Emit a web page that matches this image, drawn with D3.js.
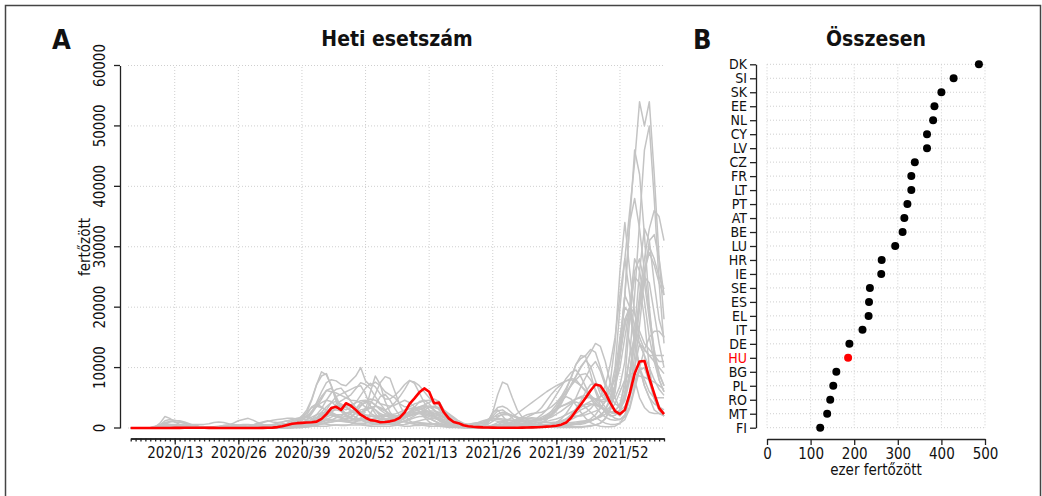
<!DOCTYPE html>
<html>
<head>
<meta charset="utf-8">
<script src="https://cdn.jsdelivr.net/npm/d3@7"></script>
<style>
  body { margin: 0; background: #fff; }
  svg text { font-family: "DejaVu Sans Condensed", "DejaVu Sans", sans-serif; font-stretch: condensed; fill: #111; }
</style>
</head>
<body>
<svg id="chart" width="1042" height="496"></svg>
<script>
// ---- data ----
// week labels, 2020/04 .. 2022/09 (one point per week)
var weeks = [];
[[2020, 4, 52], [2021, 1, 52], [2022, 1, 9]].forEach(function(s) {
    for (var w = s[1]; w <= s[2]; w++) weeks.push(s[0] + "/" + (w < 10 ? "0" + w : w));
});
var labelWeeks = ["2020/13", "2020/26", "2020/39", "2020/52", "2021/13", "2021/26", "2021/39", "2021/52"];
var yTicks = [0, 10000, 20000, 30000, 40000, 50000, 60000];

// panel B: total, thousand infected (per million)
var countries = ["DK","SI","SK","EE","NL","CY","LV","CZ","FR","LT","PT","AT","BE","LU","HR","IE","SE","ES","EL","IT","DE","HU","BG","PL","RO","MT","FI"];
var totals    = [486, 428, 400, 384, 381, 367, 367, 339, 331, 331, 322, 315, 311, 294, 263, 262, 236, 234, 233, 219, 189, 186, 159, 152, 145, 138, 122];
var xTicksB = [0, 100, 200, 300, 400, 500];

// panel A: weekly cases, in thousands
var wDK = [0,0,0,0,0,0.1,0.2,0.3,0.3,0.3,
  0.4,0.4,0.3,0.3,0.2,0.2,0.1,0.1,0.1,0.1,
  0.1,0.1,0.1,0.1,0.1,0.1,0.1,0.2,0.2,0.2,
  0.3,0.3,0.3,0.3,0.5,0.6,0.5,0.5,0.5,0.6,
  0.8,1.0,1.1,1.2,1.1,1.2,1.8,2.5,3.2,3.4,
  3.0,2.0,1.2,0.8,0.5,0.4,0.3,0.3,0.4,0.4,
  0.5,0.5,0.6,0.7,0.9,1.0,1.0,0.9,0.7,0.6,
  0.4,0.3,0.3,0.3,0.5,0.9,1.1,0.9,0.6,0.5,
  0.4,0.3,0.3,0.3,0.3,0.3,0.4,0.5,0.7,1.0,
  1.4,1.8,2.2,2.6,3.2,4.2,5.2,7.0,10.5,15.0,
  22.0,28.0,36.0,44.0,54.0,50.0,54.0,42.0,28.0,18.0];
var wSI = [0,0,0,0,0,0,0.1,0.3,0.4,0.3,
  0.2,0.2,0.1,0.1,0,0,0,0,0,0,
  0,0.1,0.1,0.1,0.1,0.1,0.1,0.1,0.1,0.1,
  0.1,0.2,0.3,0.4,0.5,0.8,1.4,2.6,4.2,6.0,
  7.5,8.0,7.8,7.2,7.0,7.8,8.6,10.0,7.8,7.0,
  7.6,7.0,6.0,5.5,5.0,4.0,3.5,3.5,4.0,4.2,
  4.5,4.6,4.2,3.8,3.0,2.4,1.8,1.2,0.8,0.5,
  0.3,0.2,0.1,0.1,0.2,0.4,0.6,0.8,1.0,1.5,
  1.8,2.2,2.4,2.5,2.6,3.0,3.5,4.2,5.2,6.6,
  8.2,10.5,11.5,12.0,13.0,12.5,10.0,7.5,5.5,4.0,
  3.5,8.0,18.0,26.0,28.0,24.0,18.0,12.0,9.0,7.0];
var wSK = [0,0,0,0,0,0,0,0.1,0.1,0.1,
  0.1,0.1,0,0,0,0,0,0,0,0,
  0,0,0,0,0,0,0,0.1,0.1,0.1,
  0.2,0.2,0.3,0.4,0.6,1.2,2.2,3.5,4.0,3.5,
  2.8,2.2,1.8,1.6,1.5,1.8,2.6,3.6,4.4,4.8,
  4.6,4.0,3.8,3.6,3.8,4.2,4.6,4.2,3.5,2.8,
  2.0,1.6,1.2,0.8,0.5,0.3,0.2,0.1,0.1,0.1,
  0,0,0,0,0,0,0,0.1,0.1,0.1,
  0.2,0.3,0.4,0.6,0.9,1.4,2.2,3.0,4.2,5.6,
  7.0,8.5,10.0,11.2,12.5,14.0,13.5,11.0,7.5,5.0,
  3.2,4.5,8.0,14.0,22.0,28.0,33.0,36.0,35.0,31.0];
var wEE = [0,0,0,0,0,0,0.1,0.3,0.3,0.2,
  0.2,0.1,0.1,0,0,0,0,0,0,0,
  0,0,0,0,0,0,0,0,0,0.1,
  0.1,0.1,0.1,0.2,0.3,0.3,0.3,0.4,0.5,0.7,
  0.9,1.0,1.2,1.4,1.6,1.8,2.4,3.0,3.2,3.4,
  3.6,3.4,3.0,3.4,4.2,5.2,6.4,7.8,7.6,7.0,
  6.0,5.0,4.0,3.0,2.2,1.5,1.0,0.6,0.4,0.3,
  0.2,0.1,0.1,0.1,0.2,0.3,0.5,0.8,1.0,1.2,
  1.5,1.8,2.2,2.6,3.4,4.5,5.6,6.5,7.2,7.8,
  8.2,8.0,7.0,6.0,5.0,4.2,3.5,3.0,2.6,2.4,
  3.0,6.0,12.0,22.0,34.0,46.0,50.0,38.0,24.0,14.0];
var wNL = [0,0,0,0,0,0.1,0.2,0.4,0.5,0.5,
  0.4,0.4,0.3,0.2,0.1,0.1,0.1,0,0,0,
  0,0,0,0,0.1,0.1,0.2,0.3,0.3,0.3,
  0.3,0.4,0.6,0.8,1.2,1.8,2.6,3.4,3.6,3.4,
  3.0,2.5,2.0,1.8,1.9,2.4,3.2,4.2,4.5,3.6,
  3.0,2.4,2.0,1.7,1.8,2.0,2.2,2.4,2.8,3.0,
  3.4,3.6,3.4,3.2,2.8,2.3,1.6,0.9,0.6,0.3,
  0.2,0.2,0.3,0.8,2.6,3.0,2.0,1.0,0.6,0.5,
  0.5,0.5,0.4,0.3,0.3,0.3,0.4,0.6,0.9,1.4,
  2.2,3.2,4.5,6.0,7.2,7.4,6.4,5.0,4.0,3.0,
  3.6,5.5,9.0,14.0,20.0,26.0,29.0,27.0,24.0,22.0];
var wCY = [0,0,0,0,0,0,0.1,0.2,0.2,0.2,
  0.1,0.1,0.1,0,0,0,0,0,0,0,
  0,0,0,0,0,0,0,0,0.1,0.1,
  0.1,0.1,0.1,0.1,0.1,0.1,0.2,0.3,0.5,0.7,
  0.9,1.3,1.7,2.0,2.4,2.6,2.5,2.6,2.9,3.3,
  3.0,2.2,1.5,1.2,1.2,1.6,2.0,2.6,3.2,3.5,
  3.8,4.2,4.8,4.4,3.0,1.8,0.9,0.5,0.4,0.4,
  0.4,0.4,0.5,1.0,2.6,5.5,7.6,7.2,5.0,3.0,
  1.8,1.4,1.2,1.0,0.9,0.9,0.9,1.0,1.2,1.5,
  1.8,2.0,2.0,2.2,2.5,2.8,3.2,4.4,7.5,14.0,
  26.0,34.0,26.0,19.0,15.0,13.0,12.0,12.0,11.0,11.0];
var wLV = [0,0,0,0,0,0,0.1,0.1,0.1,0.1,
  0.1,0.1,0,0,0,0,0,0,0,0,
  0,0,0,0,0,0,0,0,0,0,
  0,0,0,0.1,0.1,0.2,0.3,0.5,0.7,1.0,
  1.4,1.8,2.2,2.2,2.4,2.8,3.2,3.8,4.2,4.4,
  3.8,3.2,2.8,2.2,2.0,1.8,1.8,2.0,2.2,2.4,
  2.6,2.8,2.8,2.6,2.2,1.8,1.2,0.7,0.4,0.3,
  0.2,0.1,0.1,0.1,0.1,0.1,0.1,0.2,0.3,0.4,
  0.6,0.9,1.2,1.6,2.2,3.0,4.2,5.5,6.8,8.2,
  9.2,9.6,8.5,6.8,5.0,3.6,2.5,1.8,1.4,1.3,
  1.4,2.2,5.0,10.0,17.0,25.0,31.0,32.0,28.0,22.0];
var wCZ = [0,0,0,0,0,0,0.1,0.2,0.2,0.2,
  0.1,0.1,0.1,0.1,0,0,0,0,0,0.1,
  0.1,0.1,0.1,0.1,0.1,0.1,0.1,0.1,0.1,0.2,
  0.2,0.3,0.5,0.8,1.3,2.0,3.0,4.8,7.2,9.3,
  8.8,7.0,4.8,3.4,3.0,3.4,4.2,5.4,6.6,7.4,
  6.8,5.6,4.8,4.8,5.4,6.2,7.2,7.9,7.4,5.8,
  4.2,3.0,2.0,1.2,0.8,0.5,0.3,0.2,0.1,0.1,
  0.1,0.1,0.1,0.1,0.1,0.1,0.1,0.1,0.1,0.1,
  0.1,0.1,0.1,0.1,0.2,0.3,0.5,0.9,1.5,2.4,
  3.6,5.0,6.8,8.4,10.0,11.0,9.4,7.0,4.2,2.6,
  2.0,3.0,6.0,12.0,20.0,25.0,24.0,19.0,14.0,10.0];
var wFR = [0,0,0,0,0,0.1,0.2,0.4,0.6,0.6,
  0.5,0.4,0.3,0.2,0.1,0.1,0.1,0.1,0.1,0.1,
  0.1,0.1,0.1,0.1,0.1,0.2,0.2,0.3,0.4,0.6,
  0.8,1.0,1.2,1.4,1.6,1.8,2.0,2.6,3.6,4.8,
  6.2,6.6,5.2,3.4,2.2,1.5,1.3,1.3,1.5,1.9,
  2.0,1.9,1.9,2.0,2.0,2.1,2.3,2.6,3.0,3.4,
  3.6,3.5,3.0,2.4,1.8,1.3,0.9,0.6,0.4,0.3,
  0.3,0.3,0.4,0.6,1.1,1.8,2.3,2.4,2.1,1.7,
  1.3,1.0,0.8,0.6,0.5,0.5,0.5,0.5,0.5,0.6,
  0.6,0.7,0.8,1.1,1.5,2.2,3.3,4.4,5.2,7.0,
  12.0,22.0,34.0,38.0,33.0,26.0,19.0,13.0,9.0,7.0];
var wLT = [0,0,0,0,0,0,0.1,0.1,0.1,0.1,
  0.1,0,0,0,0,0,0,0,0,0,
  0,0,0,0,0,0,0,0,0,0,
  0.1,0.1,0.1,0.1,0.2,0.3,0.4,0.7,1.0,1.5,
  2.0,3.0,4.0,4.5,5.0,5.5,6.5,7.5,7.2,6.5,
  5.2,4.0,3.0,2.2,1.6,1.5,1.6,2.0,2.4,2.6,
  2.8,2.7,2.5,2.2,1.9,1.5,1.0,0.6,0.4,0.3,
  0.2,0.2,0.2,0.3,0.4,0.6,0.9,1.3,1.8,2.4,
  3.0,3.6,4.2,4.8,5.4,6.0,6.5,7.0,7.4,7.8,
  8.0,7.6,7.0,6.2,5.4,4.6,3.8,3.0,2.6,2.4,
  3.0,5.0,9.0,16.0,26.0,33.0,31.0,24.0,18.0,15.0];
var wPT = [0,0,0,0,0,0,0.1,0.3,0.4,0.5,
  0.5,0.4,0.3,0.2,0.2,0.2,0.2,0.2,0.2,0.2,
  0.2,0.2,0.2,0.2,0.1,0.1,0.1,0.1,0.1,0.1,
  0.2,0.2,0.3,0.4,0.5,0.6,0.8,1.0,1.5,2.2,
  2.6,3.4,3.6,3.8,3.4,2.8,2.6,2.5,3.0,4.0,
  5.6,7.5,8.5,8.2,6.0,3.8,2.2,1.2,0.7,0.5,
  0.4,0.3,0.3,0.3,0.3,0.3,0.3,0.3,0.3,0.4,
  0.5,0.6,0.8,1.2,1.7,2.3,2.6,2.4,2.0,1.6,
  1.3,1.0,0.8,0.6,0.5,0.4,0.4,0.4,0.4,0.5,
  0.5,0.6,0.6,0.8,1.1,1.6,2.2,2.8,3.5,6.0,
  14.0,22.0,34.0,46.0,42.0,32.0,20.0,12.0,8.0,6.0];
var wAT = [0,0,0,0,0,0.2,0.5,0.8,0.6,0.4,
  0.2,0.1,0.1,0.1,0,0,0,0,0,0,
  0.1,0.1,0.1,0.1,0.1,0.1,0.1,0.1,0.1,0.2,
  0.3,0.3,0.4,0.6,0.8,0.8,1.0,1.4,2.2,3.2,
  4.6,5.8,6.4,6.6,5.6,4.4,3.4,2.6,2.2,2.0,
  1.8,1.6,1.4,1.4,1.5,1.6,1.8,2.0,2.4,2.6,
  2.6,2.4,2.2,2.0,1.7,1.3,0.9,0.6,0.4,0.2,
  0.2,0.1,0.1,0.1,0.2,0.3,0.4,0.6,0.8,1.0,
  1.1,1.2,1.2,1.3,1.4,1.8,2.4,3.2,4.6,6.2,
  8.4,10.5,12.0,11.8,9.0,6.0,3.8,2.6,2.0,2.1,
  2.8,5.0,9.0,15.0,21.0,26.0,30.0,28.0,25.0,23.0];
var wBE = [0,0,0,0,0,0.1,0.4,0.9,1.1,1.0,
  0.9,0.8,0.6,0.5,0.3,0.2,0.1,0.1,0.1,0.1,
  0.1,0.1,0.1,0.1,0.2,0.3,0.5,0.6,0.5,0.4,
  0.4,0.5,0.6,0.8,1.0,1.6,2.6,4.6,7.2,8.6,
  9.0,7.0,4.4,2.8,1.9,1.6,1.5,1.4,1.2,1.4,
  1.6,1.4,1.4,1.5,1.7,1.9,2.2,2.8,3.4,3.2,
  2.9,2.6,2.4,2.2,1.8,1.4,1.0,0.7,0.5,0.6,
  0.8,0.9,1.2,1.4,1.6,1.4,1.3,1.2,1.2,1.3,
  1.4,1.6,1.7,1.6,1.5,1.6,2.0,2.8,4.0,5.6,
  7.2,8.6,10.2,11.2,10.2,7.8,5.6,4.6,4.4,5.0,
  7.0,11.0,20.0,28.0,26.0,21.0,15.0,11.0,8.0,6.0];
var wLU = [0,0,0,0,0,0.2,0.8,1.9,1.6,1.0,
  0.6,0.4,0.2,0.1,0.1,0.1,0.1,0.1,0.2,0.4,
  0.5,0.8,1.2,1.4,1.6,1.3,0.9,0.6,0.5,0.5,
  0.6,0.7,0.7,0.8,1.0,1.4,1.8,2.8,4.0,5.2,
  6.2,6.0,5.8,5.4,5.0,4.6,4.5,4.2,3.4,2.4,
  2.0,2.0,2.2,2.0,1.6,1.6,1.8,2.2,2.4,2.6,
  2.4,2.1,1.8,1.4,1.1,0.8,0.6,0.5,0.5,0.6,
  0.6,0.7,0.8,1.2,1.3,1.1,0.9,0.8,0.7,0.7,
  0.7,0.7,0.8,0.9,1.0,1.1,1.3,1.5,1.8,2.2,
  2.6,3.0,3.4,4.0,4.4,4.8,5.2,5.6,6.4,8.0,
  12.0,17.0,20.0,19.0,16.0,14.0,13.0,12.0,12.0,12.0];
var wHR = [0,0,0,0,0,0,0,0.1,0.1,0.1,
  0.1,0,0,0,0,0,0,0,0.1,0.1,
  0.2,0.3,0.3,0.2,0.2,0.2,0.3,0.4,0.5,0.5,
  0.5,0.5,0.4,0.4,0.4,0.5,0.6,0.9,1.4,2.0,
  3.0,4.2,5.2,5.6,6.0,6.4,6.8,7.0,5.6,3.6,
  2.4,1.4,0.8,0.6,0.6,0.8,1.2,1.6,2.0,2.6,
  3.0,3.4,3.6,3.4,2.8,2.0,1.2,0.6,0.3,0.2,
  0.1,0.1,0.1,0.1,0.2,0.3,0.4,0.4,0.5,0.6,
  0.8,0.9,1.0,1.2,1.5,2.0,2.8,3.8,5.0,6.0,
  7.0,8.0,8.8,9.0,8.0,6.4,4.6,3.4,2.6,2.8,
  4.0,7.0,12.0,15.0,14.0,12.0,10.0,8.0,6.4,5.4];
var wIE = [0,0,0,0,0,0.1,0.3,0.7,1.0,1.2,
  1.2,1.0,0.7,0.4,0.2,0.1,0.1,0,0,0,
  0,0,0,0.1,0.1,0.2,0.2,0.3,0.3,0.4,
  0.5,0.6,0.8,1.2,1.4,1.6,1.8,1.6,1.2,0.8,
  0.6,0.5,0.5,0.4,0.4,0.6,1.0,1.6,3.0,6.0,
  8.6,7.2,4.4,2.6,1.6,1.2,1.0,0.9,0.9,0.8,
  0.8,0.7,0.6,0.6,0.5,0.5,0.5,0.5,0.5,0.6,
  0.7,0.8,1.0,1.4,1.8,2.0,2.2,2.2,2.0,1.8,
  1.6,1.6,1.5,1.4,1.5,1.8,2.4,3.0,3.6,4.0,
  4.4,4.8,5.0,5.0,5.0,4.8,4.6,4.8,6.0,10.0,
  20.0,28.0,22.0,14.0,10.0,8.0,6.0,5.0,5.0,5.0];
var wSE = [0,0,0,0,0,0.1,0.2,0.3,0.4,0.5,
  0.5,0.5,0.6,0.6,0.6,0.6,0.7,0.9,1.0,0.9,
  0.7,0.5,0.4,0.3,0.3,0.3,0.2,0.2,0.2,0.2,
  0.3,0.3,0.4,0.5,0.6,0.8,1.0,1.2,1.5,2.0,
  2.6,3.2,3.6,3.7,3.6,3.8,4.2,4.5,4.6,4.4,
  3.8,3.0,2.4,2.2,2.3,2.6,3.0,3.2,3.3,3.5,
  3.6,3.6,3.5,3.2,2.6,2.0,1.2,0.7,0.4,0.3,
  0.2,0.1,0.1,0.1,0.1,0.2,0.3,0.4,0.5,0.6,
  0.6,0.6,0.5,0.5,0.4,0.4,0.4,0.5,0.6,0.8,
  0.9,1.0,1.1,1.2,1.3,1.5,2.0,3.0,4.5,7.0,
  10.0,15.0,20.0,25.0,24.0,18.0,10.0,5.0,3.0,2.0];
var wES = [0,0,0,0,0,0.1,0.5,1.2,1.4,1.3,
  1.1,0.8,0.5,0.3,0.2,0.1,0.1,0.1,0.1,0.1,
  0.1,0.1,0.1,0.2,0.3,0.5,0.7,0.9,1.1,1.3,
  1.4,1.5,1.6,1.6,1.5,1.4,1.4,1.8,2.2,2.5,
  2.7,2.6,2.2,1.8,1.4,1.2,1.1,1.2,1.5,2.4,
  3.8,5.2,5.6,4.6,3.2,2.0,1.2,0.8,0.6,0.5,
  0.6,0.7,0.7,0.7,0.6,0.6,0.5,0.4,0.3,0.3,
  0.3,0.3,0.5,1.2,2.4,3.4,3.6,3.2,2.4,1.8,
  1.2,0.8,0.5,0.3,0.2,0.2,0.2,0.1,0.1,0.1,
  0.1,0.1,0.1,0.2,0.3,0.5,0.8,1.6,3.4,7.0,
  14.0,22.0,20.0,15.0,10.0,7.0,5.0,3.0,2.4,2.0];
var wEL = [0,0,0,0,0,0,0,0,0.1,0.1,
  0.1,0,0,0,0,0,0,0,0,0,
  0,0,0,0,0,0,0.1,0.1,0.1,0.2,
  0.2,0.2,0.2,0.2,0.3,0.3,0.3,0.5,0.8,1.2,
  1.8,2.2,2.1,1.8,1.3,0.9,0.7,0.6,0.5,0.5,
  0.6,0.6,0.8,1.0,1.3,1.8,2.2,2.5,2.6,2.6,
  2.4,2.2,2.0,1.7,1.4,1.2,1.0,0.8,0.6,0.6,
  0.6,0.7,0.9,1.2,1.5,1.6,1.5,1.4,1.3,1.3,
  1.3,1.3,1.2,1.2,1.3,1.5,1.8,2.3,2.8,3.4,
  4.0,4.8,5.2,5.4,5.2,4.8,4.4,4.4,5.0,7.0,
  12.0,18.0,20.0,17.0,14.0,13.0,12.0,11.0,10.0,9.0];
var wIT = [0,0,0,0,0.1,0.3,0.5,0.6,0.5,0.5,
  0.4,0.3,0.3,0.2,0.1,0.1,0.1,0,0,0,
  0,0,0,0,0,0,0,0,0.1,0.1,
  0.1,0.1,0.1,0.1,0.2,0.2,0.4,0.8,1.6,2.6,
  3.5,4.2,4.4,4.0,3.5,3.0,2.4,2.0,2.1,2.0,
  1.8,1.6,1.5,1.5,1.6,1.8,2.2,2.5,2.6,2.4,
  2.2,1.9,1.6,1.3,1.0,0.8,0.6,0.4,0.3,0.2,
  0.2,0.1,0.1,0.1,0.2,0.4,0.6,0.7,0.6,0.5,
  0.5,0.4,0.3,0.3,0.3,0.3,0.2,0.3,0.3,0.4,
  0.5,0.6,0.8,1.0,1.2,1.5,2.0,3.0,5.0,9.0,
  15.0,20.0,19.0,14.0,10.0,7.0,5.0,4.0,3.5,3.0];
var wDE = [0,0,0,0,0,0.1,0.3,0.4,0.4,0.3,
  0.2,0.1,0.1,0.1,0,0,0,0,0,0,
  0,0,0,0,0,0,0.1,0.1,0.1,0.1,
  0.1,0.1,0.1,0.1,0.1,0.1,0.2,0.3,0.6,1.0,
  1.2,1.3,1.3,1.2,1.2,1.3,1.5,1.6,1.4,1.2,
  1.2,1.0,0.8,0.6,0.5,0.5,0.6,0.8,1.0,1.2,
  1.4,1.5,1.6,1.5,1.2,0.9,0.6,0.3,0.2,0.1,
  0.1,0.1,0.1,0.1,0.1,0.1,0.2,0.2,0.3,0.4,
  0.5,0.5,0.6,0.6,0.6,0.6,0.7,0.8,1.0,1.4,
  1.8,2.4,3.0,3.4,3.8,4.0,3.6,3.0,2.6,2.4,
  2.8,3.6,5.2,7.6,10.0,13.0,15.0,16.0,16.0,15.0];
var wBG = [0,0,0,0,0,0,0,0,0,0.1,
  0.1,0.1,0.1,0.1,0.1,0.1,0.2,0.2,0.3,0.4,
  0.5,0.6,0.5,0.4,0.3,0.3,0.3,0.2,0.2,0.2,
  0.2,0.2,0.2,0.2,0.3,0.3,0.4,0.6,0.9,1.4,
  2.0,2.6,3.2,3.6,3.8,3.6,3.0,2.2,1.4,0.9,
  0.7,0.6,0.6,0.7,0.8,1.2,1.8,2.6,3.2,3.4,
  3.2,2.6,2.0,1.4,0.9,0.6,0.4,0.2,0.1,0.1,
  0.1,0.1,0.1,0.1,0.1,0.1,0.1,0.2,0.3,0.5,
  0.7,0.9,1.1,1.4,1.8,2.2,2.7,3.2,3.6,3.9,
  4.2,4.3,4.0,3.4,2.6,1.8,1.2,0.8,0.6,0.6,
  0.8,1.4,3.2,6.4,9.6,10.0,8.0,5.6,3.6,2.4];
var wPL = [0,0,0,0,0,0,0,0.1,0.1,0.1,
  0.1,0.1,0.1,0.1,0.1,0.1,0.1,0.1,0.1,0.1,
  0.1,0.1,0.1,0.1,0.1,0.2,0.2,0.2,0.2,0.2,
  0.2,0.2,0.2,0.3,0.4,0.7,1.2,2.4,3.6,4.2,
  4.6,4.4,3.6,2.8,2.2,1.8,1.2,1.4,1.0,0.9,
  0.9,0.9,0.9,0.9,1.0,1.2,1.6,2.4,3.4,4.4,
  4.6,4.0,3.0,2.0,1.2,0.8,0.4,0.2,0.1,0.1,
  0.1,0,0,0,0,0,0,0,0,0,
  0,0,0,0.1,0.1,0.2,0.3,0.6,1.0,1.5,
  2.2,3.0,3.6,3.9,4.0,3.8,3.4,2.8,2.2,1.6,
  1.4,1.8,3.6,7.0,9.6,10.0,7.6,5.0,3.0,2.0];
var wRO = [0,0,0,0,0,0,0.1,0.1,0.2,0.2,
  0.2,0.2,0.2,0.1,0.1,0.1,0.1,0.2,0.2,0.3,
  0.3,0.4,0.5,0.6,0.6,0.5,0.5,0.4,0.4,0.4,
  0.4,0.5,0.5,0.6,0.7,0.8,1.1,1.4,1.8,2.3,
  2.7,3.0,3.0,2.8,2.5,2.2,1.8,1.3,1.0,0.8,
  0.8,0.8,0.8,0.8,0.8,0.9,1.1,1.4,1.7,1.9,
  1.9,1.6,1.2,0.8,0.5,0.3,0.2,0.1,0.1,0.1,
  0,0,0,0,0,0,0,0,0,0.1,
  0.1,0.2,0.3,0.5,0.8,1.4,2.2,3.4,4.6,5.2,
  4.8,3.8,2.6,1.6,0.9,0.5,0.3,0.2,0.2,0.3,
  0.8,2.0,5.0,10.0,14.0,12.0,8.0,4.8,3.0,2.0];
var wMT = [0,0,0,0,0,0.1,0.2,0.4,0.3,0.2,
  0.1,0.1,0.1,0,0,0,0,0,0,0,
  0,0,0,0,0.1,0.5,0.8,1.0,1.2,1.0,
  0.9,1.0,1.2,1.0,0.8,0.8,1.0,1.2,1.4,1.5,
  1.5,1.4,1.2,1.1,1.0,0.9,0.8,0.8,0.8,1.0,
  1.1,1.3,1.4,1.5,1.7,2.2,2.8,3.2,3.4,2.6,
  1.8,1.0,0.6,0.3,0.2,0.1,0.1,0.1,0.1,0.1,
  0.1,0.2,0.3,0.8,2.0,2.8,3.0,2.4,1.6,1.0,
  0.7,0.5,0.4,0.3,0.3,0.3,0.2,0.2,0.2,0.2,
  0.2,0.2,0.2,0.3,0.4,0.5,0.8,1.5,3.0,6.0,
  12.0,18.0,14.0,8.0,5.0,3.4,2.6,2.4,2.4,2.4];
var wFI = [0,0,0,0,0,0.1,0.1,0.2,0.2,0.2,
  0.2,0.1,0.1,0.1,0.1,0,0,0,0,0,
  0,0,0,0,0,0,0,0,0,0.1,
  0.1,0.1,0.1,0.1,0.2,0.2,0.2,0.3,0.3,0.3,
  0.3,0.4,0.5,0.5,0.5,0.5,0.5,0.5,0.4,0.3,
  0.3,0.3,0.3,0.3,0.4,0.5,0.6,0.8,0.9,0.9,
  0.8,0.7,0.6,0.5,0.4,0.3,0.3,0.2,0.2,0.2,
  0.2,0.2,0.2,0.3,0.4,0.5,0.6,0.7,0.7,0.8,
  0.8,0.7,0.6,0.6,0.5,0.5,0.5,0.5,0.6,0.6,
  0.7,0.8,1.0,1.1,1.3,1.5,1.8,2.3,3.0,4.0,
  6.0,8.0,9.0,9.0,8.6,8.4,8.0,7.6,7.0,6.4];
// Hungary, highlighted
var wHU = [0,0,0,0,0,0,0,0,0.01,0.02,
  0.02,0.03,0.04,0.04,0.03,0.03,0.02,0.02,0.01,0.01,
  0.01,0.01,0.01,0.01,0.01,0.01,0.01,0.02,0.03,0.06,
  0.15,0.3,0.5,0.7,0.8,0.85,0.9,0.95,1.05,1.5,
  2.3,3.3,3.5,3.0,4.1,3.7,3.0,2.2,1.7,1.3,
  1.2,0.95,1.0,1.1,1.3,1.7,2.6,4.0,4.9,5.9,
  6.55,6.0,4.1,4.2,2.6,1.6,1.0,0.8,0.45,0.3,
  0.2,0.15,0.1,0.08,0.06,0.05,0.04,0.04,0.04,0.05,
  0.06,0.08,0.1,0.13,0.17,0.22,0.28,0.38,0.55,0.9,
  1.7,2.8,3.9,5.0,6.2,7.2,7.0,5.8,4.2,2.8,
  2.3,3.0,5.7,9.0,11.0,11.1,8.2,5.7,3.3,2.3];

// gray lines, built from the arrays above
var grayLines = [wDK, wSI, wSK, wEE, wNL, wCY, wLV, wCZ, wFR, wLT, wPT, wAT, wBE, wLU,
                 wHR, wIE, wSE, wES, wEL, wIT, wDE, wBG, wPL, wRO, wMT, wFI];

// ---- drawing ----
var svg = d3.select("#chart");
var gridColor = "#cfcfcf";
var axisColor = "#222";
var tickFont = "15px";

// outer frame
svg.append("rect")
    .attr("x", 5.5).attr("y", 5.5)
    .attr("width", 1035).attr("height", 500)
    .attr("fill", "none").attr("stroke", "#444").attr("stroke-width", 1.5);

// ===== panel A =====
var x = d3.scalePoint().domain(weeks).range([130.7, 664]);
var y = d3.scaleLinear().domain([0, 60000]).range([428, 65.5]);

var gA = svg.append("g");

// grid
gA.selectAll(".hgrid").data(yTicks).enter().append("line")
    .attr("x1", 128).attr("x2", 665)
    .attr("y1", function(d) { return y(d); }).attr("y2", function(d) { return y(d); })
    .attr("stroke", gridColor).attr("stroke-dasharray", "1,2");
gA.selectAll(".vgrid").data(labelWeeks).enter().append("line")
    .attr("x1", function(d) { return x(d); }).attr("x2", function(d) { return x(d); })
    .attr("y1", y(0)).attr("y2", y(60000))
    .attr("stroke", gridColor).attr("stroke-dasharray", "1,2");

var line = d3.line()
    .x(function(d, i) { return x(weeks[i]); })
    .y(function(d) { return y(d * 1000); });

gA.selectAll(".gray").data(grayLines).enter().append("path")
    .attr("d", line)
    .attr("fill", "none")
    .attr("stroke", "#c4c4c4")
    .attr("stroke-width", 1.5)
    .attr("stroke-linejoin", "round");

gA.append("path")
    .attr("d", line(wHU))
    .attr("fill", "none")
    .attr("stroke", "#ff0000")
    .attr("stroke-width", 2.6)
    .attr("stroke-linejoin", "round");

// y axis
var yAxisA = gA.append("g")
    .attr("transform", "translate(120,0)")
    .call(d3.axisLeft(y).tickValues(yTicks).tickSize(6).tickSizeOuter(0).tickFormat(d3.format("d")));
yAxisA.selectAll("text")
    .attr("transform", function(d) { return "translate(-15," + y(d) + ") rotate(-90)"; })
    .attr("x", 0).attr("y", 0).attr("dy", 0)
    .attr("text-anchor", "middle")
    .style("font-size", tickFont);
yAxisA.selectAll(".tick").attr("transform", null);
yAxisA.selectAll(".tick line").attr("y1", function(d) { return y(d); }).attr("y2", function(d) { return y(d); });

gA.append("text")
    .attr("transform", "translate(90,247) rotate(-90)")
    .attr("text-anchor", "middle")
    .style("font-size", tickFont)
    .text("fertőzött");

// x axis: weekly minor ticks, labelled ones longer
gA.append("g")
    .attr("transform", "translate(0,438.5)")
    .call(d3.axisBottom(x).tickValues(weeks).tickSize(3).tickSizeOuter(0).tickFormat(""));
var xAxisA = gA.append("g")
    .attr("transform", "translate(0,438.5)")
    .call(d3.axisBottom(x).tickValues(labelWeeks).tickSize(6).tickSizeOuter(0));
xAxisA.selectAll("text").attr("y", 9).attr("dy", "0.71em").style("font-size", tickFont);

gA.append("text")
    .attr("x", 397).attr("y", 46)
    .attr("text-anchor", "middle")
    .style("font-size", "21px").style("font-weight", "bold")
    .text("Heti esetszám");
gA.append("text")
    .attr("x", 52).attr("y", 49)
    .style("font-size", "27px").style("font-weight", "bold")
    .style("font-stretch", "normal")
    .text("A");

// ===== panel B =====
var cy = d3.scalePoint().domain(countries).range([64.3, 427.7]);
var cx = d3.scaleLinear().domain([0, 500]).range([767, 985]);

var gB = svg.append("g");

gB.selectAll(".hgridB").data(countries).enter().append("line")
    .attr("x1", cx(0)).attr("x2", cx(500))
    .attr("y1", function(d) { return cy(d); }).attr("y2", function(d) { return cy(d); })
    .attr("stroke", gridColor).attr("stroke-dasharray", "1,2");
gB.selectAll(".vgridB").data(xTicksB).enter().append("line")
    .attr("x1", function(d) { return cx(d); }).attr("x2", function(d) { return cx(d); })
    .attr("y1", cy("DK")).attr("y2", cy("FI"))
    .attr("stroke", gridColor).attr("stroke-dasharray", "1,2");

gB.selectAll(".dot").data(countries).enter().append("circle")
    .attr("cx", function(d, i) { return cx(totals[i]); })
    .attr("cy", function(d) { return cy(d); })
    .attr("r", 4)
    .attr("fill", function(d) { return d === "HU" ? "#ff0000" : "#000"; });

// country labels: a bit smaller, rows are only 14px apart
var yAxisB = gB.append("g")
    .attr("transform", "translate(756,0)")
    .call(d3.axisLeft(cy).tickSize(6).tickSizeOuter(0));
yAxisB.selectAll("text")
    .attr("x", -9)
    .style("font-size", "14px")
    .style("fill", function(d) { return d === "HU" ? "#ff0000" : "#111"; });

var xAxisB = gB.append("g")
    .attr("transform", "translate(0,439)")
    .call(d3.axisBottom(cx).tickValues(xTicksB).tickSize(6).tickSizeOuter(0));
xAxisB.selectAll("text").attr("y", 9).attr("dy", "0.71em").style("font-size", tickFont);

gB.append("text")
    .attr("x", 876).attr("y", 475)
    .attr("text-anchor", "middle")
    .style("font-size", tickFont)
    .text("ezer fertőzött");

gB.append("text")
    .attr("x", 876).attr("y", 46)
    .attr("text-anchor", "middle")
    .style("font-size", "21px").style("font-weight", "bold")
    .text("Összesen");
gB.append("text")
    .attr("x", 693).attr("y", 49)
    .style("font-size", "27px").style("font-weight", "bold")
    .style("font-stretch", "normal")
    .text("B");

// axis styling
svg.selectAll(".domain, .tick line").attr("stroke", axisColor).attr("stroke-width", 1.3);
</script>
</body>
</html>
